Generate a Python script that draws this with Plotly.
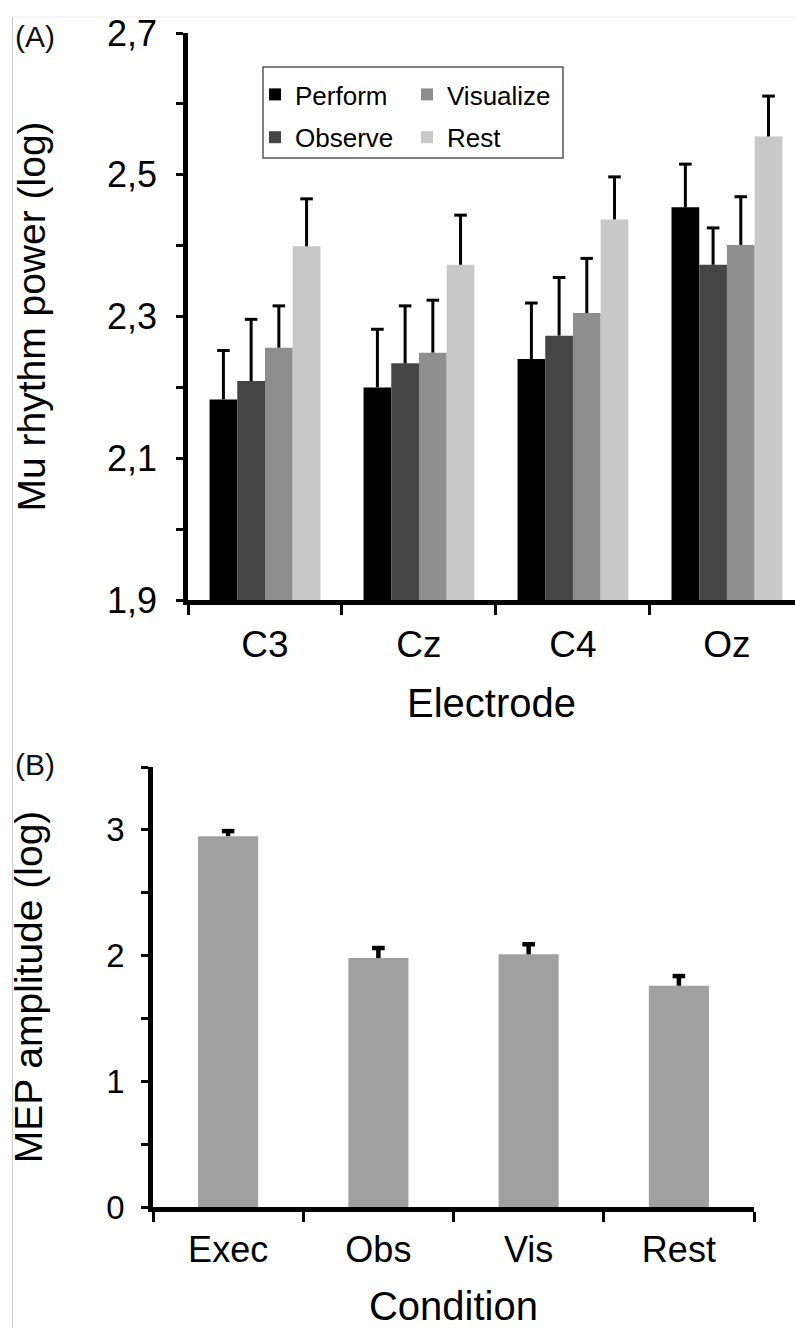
import plotly.graph_objects as go

W, H = 795, 1328

# Panel A: mu rhythm power per electrode and condition
electrodes = ["C3", "Cz", "C4", "Oz"]
perform = [2.183, 2.200, 2.240, 2.454]
observe = [2.209, 2.234, 2.273, 2.373]
visualize = [2.256, 2.249, 2.305, 2.401]
rest = [2.399, 2.373, 2.437, 2.554]
perform_err = [0.069, 0.082, 0.079, 0.061]
observe_err = [0.087, 0.081, 0.082, 0.052]
visualize_err = [0.059, 0.074, 0.077, 0.068]
rest_err = [0.067, 0.070, 0.060, 0.057]
mu_tickvals = [1.9, 2.1, 2.3, 2.5, 2.7]
mu_ticktext = ["1,9", "2,1", "2,3", "2,5", "2,7"]

# Panel B: MEP amplitude per condition
mep_conditions = ["Exec", "Obs", "Vis", "Rest"]
mep_amplitude = [2.95, 1.98, 2.01, 1.76]
mep_err = [0.04, 0.08, 0.08, 0.077]
mep_tickvals = [0, 1, 2, 3]


def px_x(x):
    return x / W


def px_y(y):
    return 1 - y / H


FONT = "Liberation Sans, Arial, Helvetica, sans-serif"


def upper_whisker(x, vals, errs, xaxis, yaxis, thickness, group):
    """One-sided error bar: a cap marker at value+error with a stem down to the bar top."""
    tops = [v + e for v, e in zip(vals, errs)]
    return go.Scatter(
        x=x, y=tops, mode="markers",
        marker=dict(symbol="line-ew", size=9, color="black",
                    line=dict(width=thickness, color="black")),
        error_y=dict(type="data", symmetric=False, array=[0] * len(errs),
                     arrayminus=errs, width=0, thickness=thickness,
                     color="black"),
        offsetgroup=group, showlegend=False, hoverinfo="skip",
        xaxis=xaxis, yaxis=yaxis,
    )


fig = go.Figure()

series_a = [
    ("Perform", perform, perform_err, "#000000", "legend"),
    ("Observe", observe, observe_err, "#454545", "legend"),
    ("Visualize", visualize, visualize_err, "#8e8e8e", "legend2"),
    ("Rest", rest, rest_err, "#c8c8c8", "legend2"),
]
for name, vals, errs, color, leg in series_a:
    fig.add_trace(go.Bar(
        x=electrodes, y=vals, name=name,
        marker=dict(color=color, line=dict(width=0)),
        legend=leg, legendgroup=name, offsetgroup=name,
        xaxis="x", yaxis="y",
    ))
for name, vals, errs, color, leg in series_a:
    fig.add_trace(upper_whisker(electrodes, vals, errs, "x", "y", 3, name))

fig.add_trace(go.Bar(
    x=mep_conditions, y=mep_amplitude, name="MEP",
    width=0.4,
    marker=dict(color="#a0a0a0", line=dict(width=0)),
    showlegend=False,
    xaxis="x2", yaxis="y2",
))
fig.add_trace(upper_whisker(mep_conditions, mep_amplitude, mep_err,
                            "x2", "y2", 4.5, "MEP"))

axis_common = dict(
    showline=True, linecolor="black", linewidth=4.5,
    ticks="outside", tickcolor="black", tickwidth=3,
    showgrid=False, zeroline=False, fixedrange=True, automargin=False,
)

legend_common = dict(
    orientation="v", xanchor="left", yanchor="top",
    bgcolor="rgba(0,0,0,0)", borderwidth=0,
    font=dict(family=FONT, size=26, color="black"),
    traceorder="grouped", tracegroupgap=6,
)

fig.update_layout(
    width=W, height=H,
    margin=dict(l=0, r=0, t=0, b=0, autoexpand=False),
    paper_bgcolor="white", plot_bgcolor="white",
    font=dict(family=FONT, color="black"),
    barmode="group", bargap=0.28, bargroupgap=0,
    scattermode="group", scattergap=0.28,
    xaxis=dict(
        axis_common, domain=[px_x(188), 1], range=[-0.5, 3.442],
        anchor="y", tickson="boundaries", ticklen=10,
        tickfont=dict(size=37), ticklabelstandoff=8,
        title=dict(text="Electrode", font=dict(size=40), standoff=26),
    ),
    yaxis=dict(
        axis_common, domain=[px_y(600), px_y(33)], range=[1.9, 2.7],
        anchor="x", tickvals=mu_tickvals, ticktext=mu_ticktext, ticklen=7,
        tickfont=dict(size=36), ticklabelstandoff=12,
        minor=dict(dtick=0.1, tick0=1.9, ticks="outside", ticklen=7,
                   tickwidth=3, tickcolor="black"),
        title=dict(text="Mu rhythm power (log)", font=dict(size=39), standoff=51),
    ),
    xaxis2=dict(
        axis_common, domain=[px_x(153), px_x(754)], range=[-0.5, 3.5],
        anchor="y2", tickson="boundaries", ticklen=10,
        tickfont=dict(size=36), ticklabelstandoff=7,
        title=dict(text="Condition", font=dict(size=40), standoff=27),
    ),
    yaxis2=dict(
        axis_common, domain=[px_y(1207), px_y(767)], range=[0, 3.5],
        anchor="x2", tickvals=mep_tickvals, ticklen=7,
        tickfont=dict(size=33), ticklabelstandoff=10,
        minor=dict(dtick=0.5, tick0=0, ticks="outside", ticklen=7,
                   tickwidth=3, tickcolor="black"),
        title=dict(text="MEP amplitude (log)", font=dict(size=39), standoff=53),
    ),
    legend=dict(legend_common, x=px_x(255), y=px_y(71)),
    legend2=dict(legend_common, x=px_x(407), y=px_y(71)),
    shapes=[
        # frame around the two legend columns
        dict(type="rect", xref="paper", yref="paper",
             x0=px_x(263), x1=px_x(563), y0=px_y(158), y1=px_y(67),
             line=dict(color="#555555", width=1.5)),
        # thin page rules on the left and top
        dict(type="line", xref="paper", yref="paper",
             x0=px_x(12.5), x1=px_x(12.5), y0=0, y1=px_y(17),
             line=dict(color="#cccccc", width=1)),
        dict(type="line", xref="paper", yref="paper",
             x0=px_x(12.5), x1=1, y0=px_y(17), y1=px_y(17),
             line=dict(color="#eeeeee", width=1)),
    ],
    annotations=[
        dict(text="(A)", xref="paper", yref="paper", x=px_x(13), y=px_y(36),
             xanchor="left", yanchor="middle", showarrow=False,
             font=dict(family=FONT, size=30, color="#111111")),
        dict(text="(B)", xref="paper", yref="paper", x=px_x(13), y=px_y(765),
             xanchor="left", yanchor="middle", showarrow=False,
             font=dict(family=FONT, size=30, color="#111111")),
    ],
)

fig.write_html("out.html")
